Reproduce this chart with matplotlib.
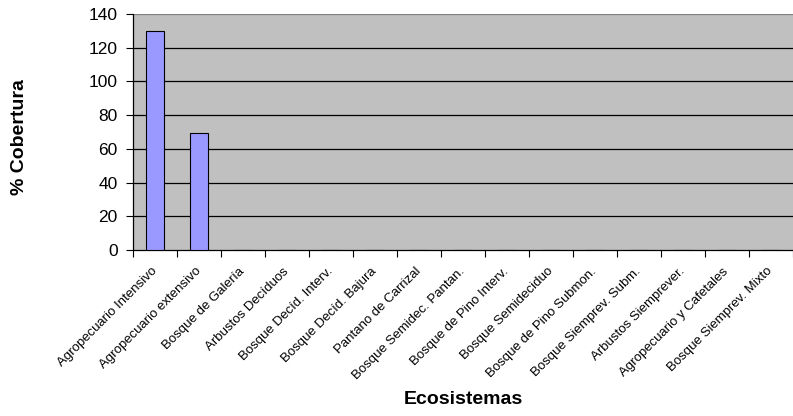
import matplotlib
matplotlib.use("Agg")
import matplotlib.pyplot as plt
import numpy as np

plt.rcParams['font.family'] = ['Liberation Sans', 'DejaVu Sans']

categories = [
    "Agropecuario Intensivo", "Agropecuario extensivo", "Bosque de Galería",
    "Arbustos Decíduos", "Bosque Decíd. Interv.", "Bosque Decíd. Bajura",
    "Pantano de Carrizal", "Bosque Semidec. Pantan.", "Bosque de Pino Interv.",
    "Bosque Semideciduo", "Bosque de Pino Submon.", "Bosque Siemprev. Subm.",
    "Arbustos Siemprever.", "Agropecuario y Cafetales", "Bosque Siemprev. Mixto",
]
cobertura = [130, 69.5, 0, 0, 0, 0, 0, 0, 0, 0, 0, 0, 0, 0, 0]
yticks = [0, 20, 40, 60, 80, 100, 120, 140]

fig = plt.figure(figsize=(7.93, 4.16), dpi=100)
ax = fig.add_axes([133/793, 1 - 250/416, 660/793, 236/416])
ax.set_facecolor('#C0C0C0')

x = np.arange(len(categories))
ax.bar(x, cobertura, width=0.39, color='#9999FF', edgecolor='black', linewidth=0.8, zorder=3)

ax.set_xlim(-0.5, len(categories) - 0.5)
ax.set_ylim(0, 140)
ax.set_yticks(yticks)
ax.tick_params(axis='y', labelsize=12.5, length=5, direction='out', width=0.8, pad=6)
for v in yticks[1:]:
    ax.axhline(v, color='black' if v < 140 else '#808080', linewidth=0.9, zorder=1)

# category ticks sit on the boundaries between bars; the rotated names hang
# from slightly left of each bar centre so their ends line up under the bars
ax.set_xticks(np.arange(len(categories) + 1) - 0.5, minor=False)
ax.set_xticklabels([])
ax.set_xticks(x - 0.1, minor=True)
ax.set_xticklabels(categories, minor=True, rotation=45, ha='right',
                   rotation_mode='anchor', fontsize=9.5)
ax.tick_params(axis='x', which='major', length=5, width=0.8, direction='out')
ax.tick_params(axis='x', which='minor', length=0, pad=11)

for s in ['top', 'right']:
    ax.spines[s].set_visible(False)
ax.spines['left'].set_linewidth(0.9)
ax.spines['bottom'].set_linewidth(0.9)

fig.text(20/793, 1 - 137/416, '% Cobertura', rotation=90, ha='center', va='center',
         fontsize=14, fontweight='bold')
fig.text(463/793, 1 - 400/416, 'Ecosistemas', ha='center', va='center',
         fontsize=14, fontweight='bold')

fig.savefig('out.png', dpi=100)
